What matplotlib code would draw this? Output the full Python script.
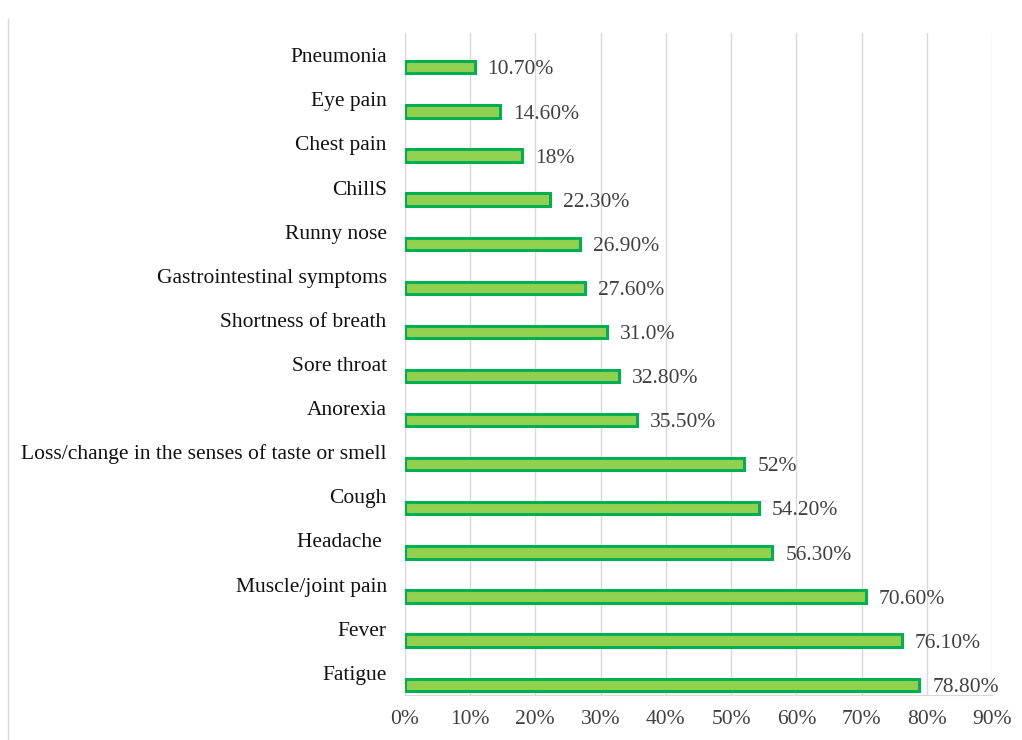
import numpy as np
import matplotlib.pyplot as plt

# data, bottom to top
symptoms = ["Fatigue", "Fever", "Muscle/joint pain", "Headache ", "Cough",
            "Loss/change in the senses of taste or smell", "Anorexia",
            "Sore throat", "Shortness of breath", "Gastrointestinal symptoms",
            "Runny nose", "ChillS", "Chest pain", "Eye pain", "Pneumonia"]
percent = [78.8, 76.1, 70.6, 56.3, 54.2, 52, 35.5, 32.8, 31.0, 27.6,
           26.9, 22.3, 18, 14.6, 10.7]
value_labels = ["78.80%", "76.10%", "70.60%", "56.30%", "54.20%", "52%",
                "35.50%", "32.80%", "31.0%", "27.60%", "26.90%", "22.30%",
                "18%", "14.60%", "10.70%"]
xticks = np.arange(0, 91, 10)

plt.rcParams['font.family'] = ['Liberation Serif', 'DejaVu Serif']
fs = 15.5

fig = plt.figure(figsize=(10.22, 7.4), dpi=100)
ax = fig.add_axes([0.396, 0.061, 0.575, 0.894])

y = np.arange(len(symptoms))
ax.barh(y, percent, height=0.28, color='#92D050', edgecolor='#00B050',
        linewidth=2.2, zorder=3)

for yi, v, lab in zip(y, percent, value_labels):
    ax.text(v + 2.0, yi - 0.06, lab, va='center', ha='left', fontsize=fs,
            color='#404040')

ax.set_xlim(0, 90)
ax.set_ylim(-0.23, 14.77)
ax.set_xticks(xticks)
ax.set_xticklabels([f"{t}%" for t in xticks], fontsize=fs, color='#404040')
ax.set_yticks(y)
# category labels sit a little above their bars
ax.set_yticklabels(symptoms, fontsize=fs, color='#111111', va='bottom')

ax.tick_params(axis='both', length=0)
ax.tick_params(axis='y', pad=13)
ax.tick_params(axis='x', pad=11)
ax.grid(axis='x', color='#D9D9D9', linewidth=1.0, zorder=0)
for s in ['top', 'right']:
    ax.spines[s].set_visible(False)
for s in ['left', 'bottom']:
    ax.spines[s].set_color('#D9D9D9')

# faint outer chart border on the left
fig.add_artist(plt.Line2D([0.008, 0.008], [0.0, 0.975], color='#D9D9D9',
                          linewidth=1.0))

fig.savefig("out.png", dpi=100)
